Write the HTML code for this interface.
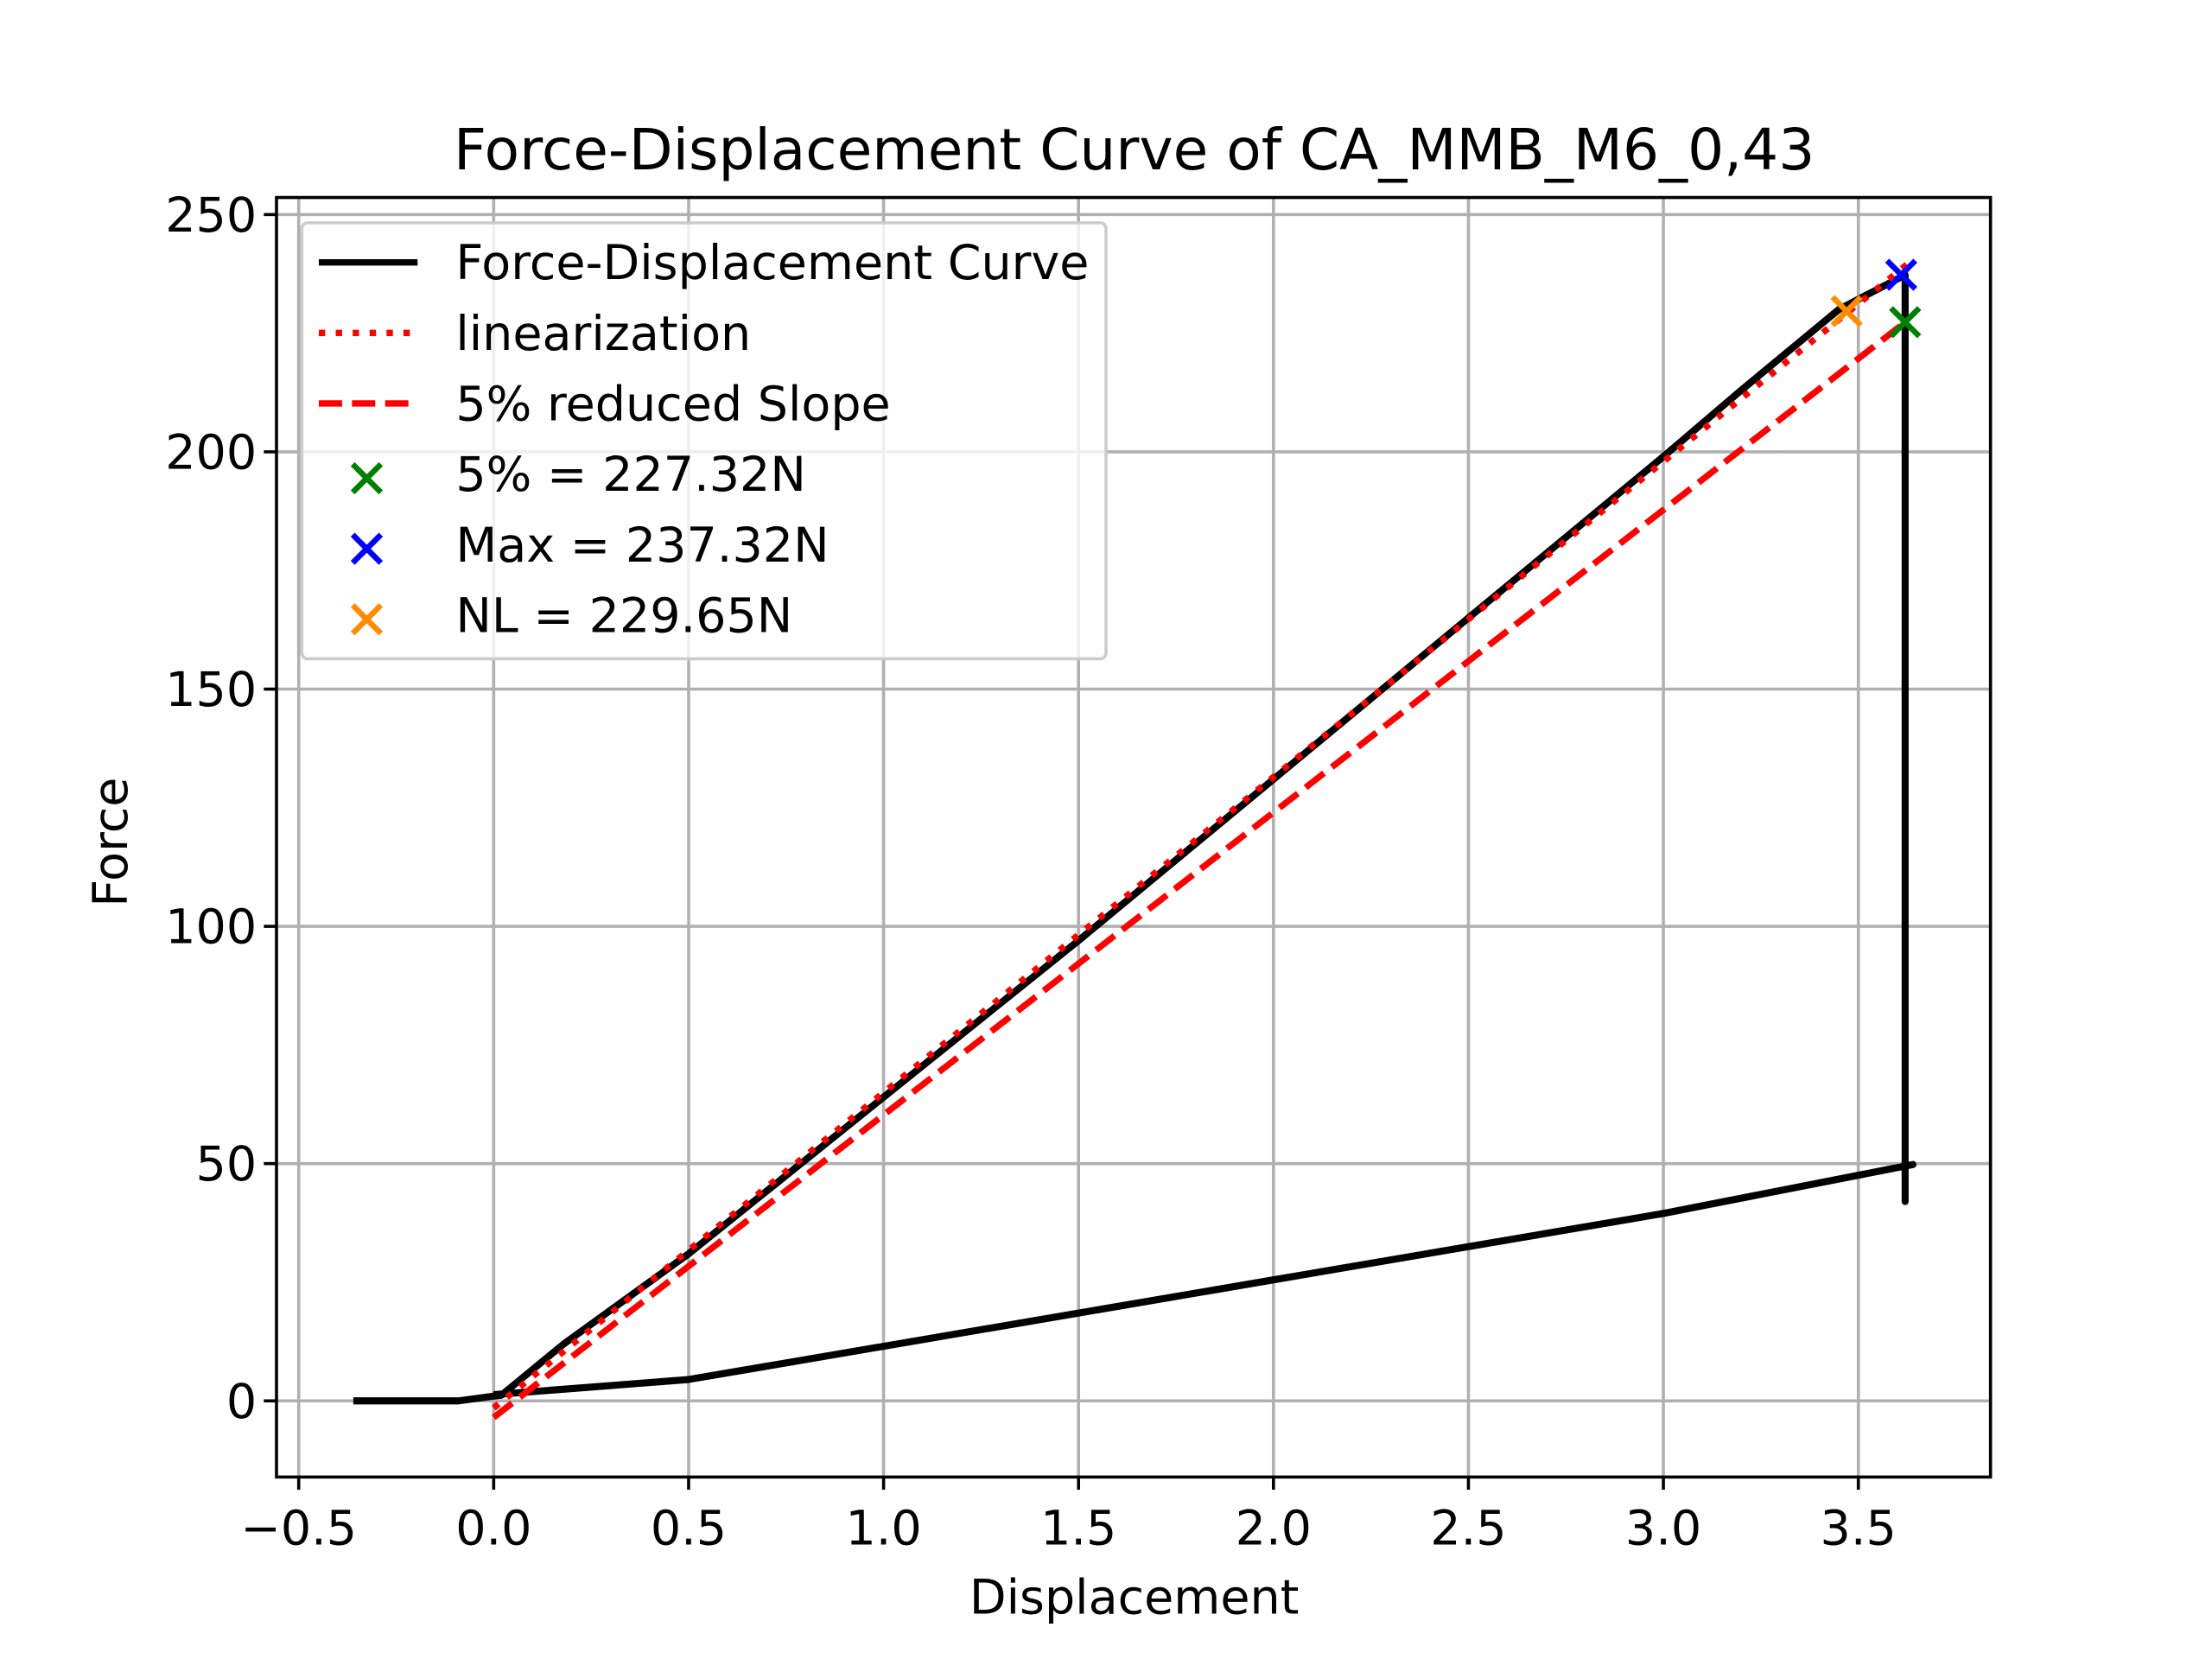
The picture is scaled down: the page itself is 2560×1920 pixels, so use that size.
<!DOCTYPE html>
<html><head><meta charset="utf-8"><style>
html,body{margin:0;padding:0;background:#fff;width:2560px;height:1920px;overflow:hidden}
svg{display:block}
text{font-family:"DejaVu Sans","Liberation Sans",sans-serif;fill:#000}
</style></head><body>
<svg id="chart" width="2560" height="1920" viewBox="0 0 1568 1176" xmlns="http://www.w3.org/2000/svg">
<rect width="1568" height="1176" fill="#fff"/>
<text x="804" y="120" text-anchor="middle" font-size="40.5">Force-Displacement Curve of CA_MMB_M6_0,43</text>
<g id="grid"></g>
<g id="plot"></g>
<rect x="196" y="140" width="1215" height="907" fill="none" stroke="#000" stroke-width="2.2"/>
<g id="ticks"></g>
<text x="804" y="1144" text-anchor="middle" font-size="34">Displacement</text>
<text transform="translate(90,597) rotate(-90)" text-anchor="middle" font-size="34">Force</text>
<g id="legend">
<rect x="214" y="158" width="570" height="309" rx="4" fill="#fff" fill-opacity="0.8" stroke="#ccc" stroke-width="2.2"/>
<line x1="226" y1="186" x2="296" y2="186" stroke="#000" stroke-width="4.5"/>
<text x="323" y="198" font-size="34">Force-Displacement Curve</text>
<line x1="226" y1="236" x2="296" y2="236" stroke="#f00" stroke-width="4.5" stroke-dasharray="4.5,7.5"/>
<text x="323" y="248" font-size="34">linearization</text>
<line x1="226" y1="286" x2="296" y2="286" stroke="#f00" stroke-width="4.5" stroke-dasharray="16.5,7"/>
<text x="323" y="298" font-size="34">5% reduced Slope</text>
<path d="M250,329 l20,20 M270,329 l-20,20" stroke="green" stroke-width="4"/>
<text x="323" y="348" font-size="34">5% = 227.32N</text>
<path d="M250,379 l20,20 M270,379 l-20,20" stroke="blue" stroke-width="4"/>
<text x="323" y="398" font-size="34">Max = 237.32N</text>
<path d="M250,429 l20,20 M270,429 l-20,20" stroke="darkorange" stroke-width="4"/>
<text x="323" y="448" font-size="34">NL = 229.65N</text>
</g>
</svg>
<script>
const xTicks=[-0.5,0.0,0.5,1.0,1.5,2.0,2.5,3.0,3.5];
const xTickLabels=["\u22120.5","0.0","0.5","1.0","1.5","2.0","2.5","3.0","3.5"];
const yTicks=[0,50,100,150,200,250];
const yTickLabels=["0","50","100","150","200","250"];
const curveX=[-0.36,-0.09,0.0,0.02,0.18,0.5,1.0,1.5,2.0,2.5,3.0,3.2,3.45,3.62,3.62,3.62,3.64,3.0,2.0,1.0,0.5,0.0];
const curveY=[0,0,1,1.2,12,31,64,97,131,165,199,213,230,237.3,42,49.5,49.8,39.5,25.5,11.5,4.5,1.3];
const linX=[0.0,3.64];
const linY=[-1.5,240.5];
const redX=[0.0,3.62];
const redY=[-3.5,227.3];
const markX=[3.62,3.61,3.47];
const markY=[227.32,237.32,229.65];
const markColors=["green","blue","darkorange"];
const markNames=["marker-5pct","marker-max","marker-nl"];
const X0=196,X1=1411,Y0=1047,Y1=140,xmin=-0.557,xmax=3.839,ymin=-16.05,ymax=253.6;
const sx=v=>X0+(v-xmin)/(xmax-xmin)*(X1-X0);
const sy=v=>Y0-(v-ymin)/(ymax-ymin)*(Y0-Y1);
const NS="http://www.w3.org/2000/svg";
function mk(tag,attrs,parent){const e=document.createElementNS(NS,tag);for(const k in attrs)e.setAttribute(k,attrs[k]);document.getElementById(parent).appendChild(e);return e;}
xTicks.forEach((t,i)=>{
 const g=mk('line',{x1:sx(t),x2:sx(t),y1:Y1,y2:Y0,stroke:'#b0b0b0','stroke-width':2.2},'grid');
 
 
 const tk=mk('line',{x1:sx(t),x2:sx(t),y1:Y0,y2:Y0+9,stroke:'#000','stroke-width':2.2},'ticks');
 
 
 const tx=mk('text',{x:sx(t),y:Y0+48,'text-anchor':'middle','font-size':34},'ticks');
 tx.textContent=xTickLabels[i];
 
 
});
yTicks.forEach((t,i)=>{
 const g=mk('line',{x1:X0,x2:X1,y1:sy(t),y2:sy(t),stroke:'#b0b0b0','stroke-width':2.2},'grid');
 
 
 const tk=mk('line',{x1:X0-9,x2:X0,y1:sy(t),y2:sy(t),stroke:'#000','stroke-width':2.2},'ticks');
 
 
 const tx=mk('text',{x:X0-14,y:sy(t)+12,'text-anchor':'end','font-size':34},'ticks');
 tx.textContent=yTickLabels[i];
 
 
});
const pts=(xs,ys)=>xs.map((x,i)=>sx(x)+','+sy(ys[i])).join(' ');
const c=mk('polyline',{points:pts(curveX,curveY),fill:'none',stroke:'#000','stroke-width':5,'stroke-linejoin':'round'},'plot');


const r=mk('polyline',{points:pts(redX,redY),fill:'none',stroke:'#f00','stroke-width':4.5,'stroke-dasharray':'16.5,7'},'plot');


const l=mk('polyline',{points:pts(linX,linY),fill:'none',stroke:'#f00','stroke-width':4.5,'stroke-dasharray':'4.5,7.5'},'plot');


markX.forEach((x,i)=>{
 const px=sx(x),py=sy(markY[i]);
 const m=mk('path',{d:`M${px-10},${py-10} l20,20 M${px+10},${py-10} l-20,20`,stroke:markColors[i],'stroke-width':4},'plot');
 
 
});
</script>
</body></html>
